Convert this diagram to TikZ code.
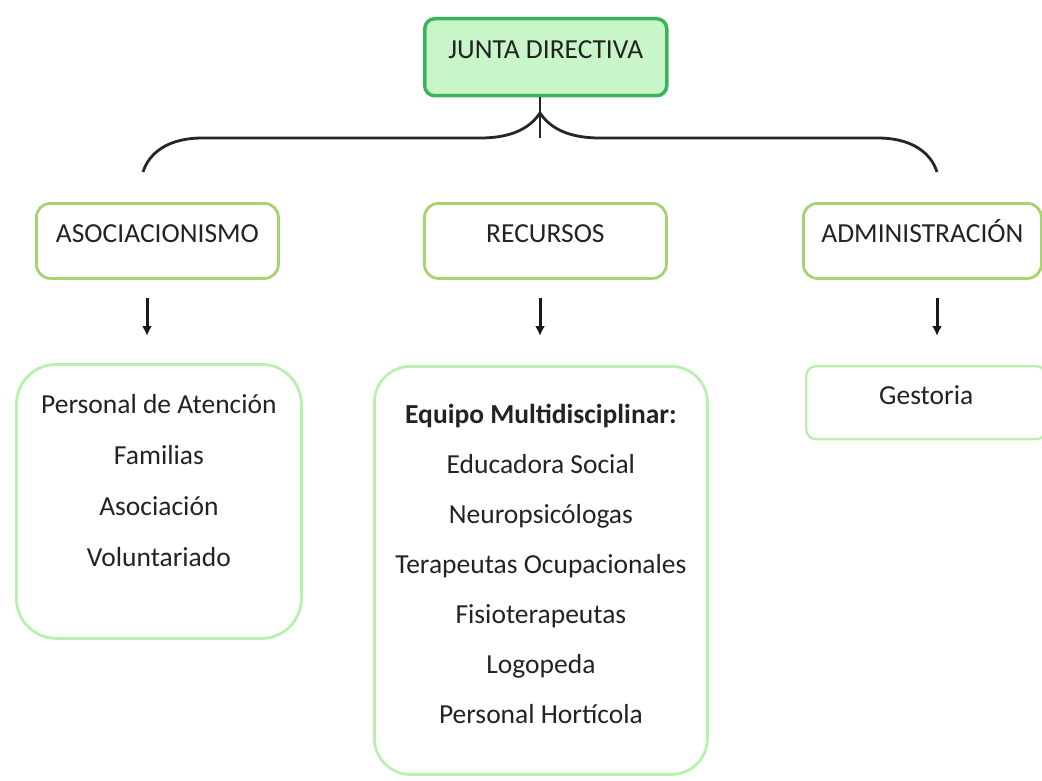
\documentclass[tikz,border=0pt]{standalone}
\usepackage{fontspec}
\setmainfont{Carlito}
\usetikzlibrary{arrows.meta,calc}
\definecolor{jfill}{RGB}{200,246,200}
\definecolor{jdraw}{RGB}{60,178,92}
\definecolor{ydraw}{RGB}{165,212,110}
\definecolor{ldraw}{RGB}{185,240,175}
\definecolor{txt}{RGB}{35,35,35}
\tikzset{
  x=1pt, y=-1pt,
  base/.style={font=\fontsize{27.5}{33}\selectfont, text=txt, inner sep=0pt},
  onebox/.style={base, text height=19pt, text depth=16pt, anchor=north west},
  topbox/.style={onebox, draw=jdraw, fill=jfill, line width=3.5pt, rounded corners=10pt},
  midbox/.style={onebox, draw=ydraw, line width=2.8pt, rounded corners=14pt},
  listbox/.style={base, draw=ldraw, line width=2.8pt, anchor=north west},
  brace/.style={draw=black!85, line width=2.8pt},
  arr/.style={draw=black!90, line width=3pt, -{Latex[length=10pt,width=10pt]}},
}
\begin{document}
\begin{tikzpicture}
\useasboundingbox (0,0) rectangle (1042,781);
\node[topbox, minimum width=242pt, minimum height=77pt] (junta) at (423,17) {JUNTA DIRECTIVA};
\node[midbox, minimum width=242pt, minimum height=75pt] (asoc) at (35,202) {ASOCIACIONISMO};
\node[midbox, minimum width=242pt, minimum height=75pt] (recu) at (423,202) {RECURSOS};
\node[midbox, minimum width=238pt, minimum height=75pt] (admi) at (802,202) {ADMINISTRACIÓN};
\node[listbox, rounded corners=40pt] (lst1) at (15,363) {\parbox[c][274pt][t]{285pt}{\centering\setlength{\baselineskip}{51pt}%
  \rule{0pt}{49pt}Personal de Atención\\
  Familias\\
  Asociación\\
  Voluntariado\par}};
\node[listbox, rounded corners=36pt] (lst2) at (373,365) {\parbox[c][408pt][t]{333pt}{\centering\setlength{\baselineskip}{50pt}%
  \rule{0pt}{57pt}\textbf{Equipo Multidisciplinar:}\\
  Educadora Social\\
  Neuropsicólogas\\
  Terapeutas Ocupacionales\\
  Fisioterapeutas\\
  Logopeda\\
  Personal Hortícola\par}};
\node[onebox, draw=ldraw, line width=2.4pt, rounded corners=10pt, minimum width=240pt, minimum height=73pt] (gest) at (805,365) {Gestoria};
% brace
\coordinate (hub) at (540,113);
\coordinate (bl) at (143,172);
\coordinate (br) at (937,172);
\coordinate (hb) at (540,138);
\draw[brace] (bl) .. controls (150,150) and (172,138) .. (202,138) -- (480,138)
  .. controls (512,138) and (530,128) .. (hub)
  .. controls (550,128) and (568,138) .. (600,138) -- (878,138)
  .. controls (908,138) and (930,150) .. (br);
\draw[brace] (hb |- junta.south) -- (hb);
% arrows
\draw[arr, shorten <=18pt, shorten >=27pt] (asoc.south -| 147,0) -- (lst1.north -| 147,0);
\draw[arr, shorten <=18pt, shorten >=29pt] (recu.south -| 540,0) -- (lst2.north -| 540,0);
\draw[arr, shorten <=18pt, shorten >=29pt] (admi.south -| 937,0) -- (gest.north -| 937,0);
\end{tikzpicture}
\end{document}
